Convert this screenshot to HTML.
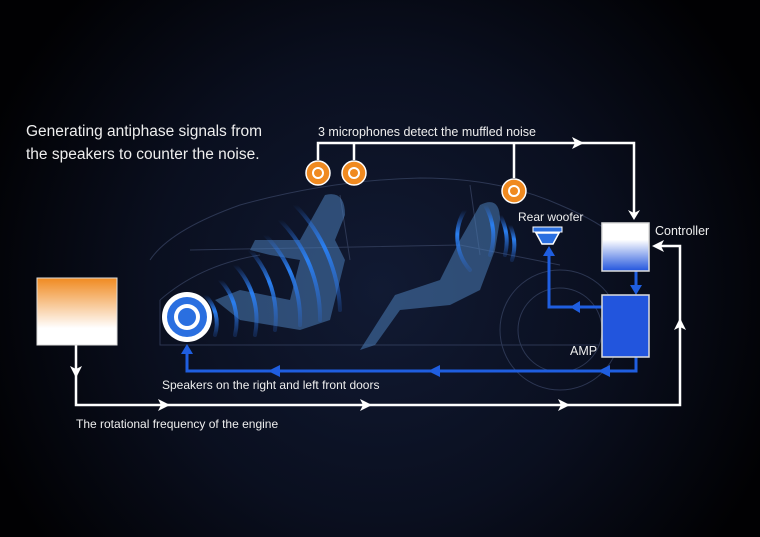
<!DOCTYPE html>
<html><head><meta charset="utf-8"><style>
html,body{margin:0;padding:0;background:#000;}
body{width:760px;height:537px;overflow:hidden;position:relative;font-family:"Liberation Sans",sans-serif;}
svg{position:absolute;left:0;top:0}
</style></head><body>
<svg width="760" height="537" viewBox="0 0 760 537">
<defs>
<radialGradient id="bg" cx="380" cy="290" r="420" gradientUnits="userSpaceOnUse">
<stop offset="0" stop-color="#111a33"/><stop offset="0.55" stop-color="#0a0f1f"/><stop offset="1" stop-color="#010103"/></radialGradient>
<linearGradient id="or" x1="0" y1="0" x2="0" y2="1"><stop offset="0" stop-color="#f08a20"/><stop offset="0.75" stop-color="#fff"/><stop offset="1" stop-color="#fff"/></linearGradient>
<linearGradient id="ct" x1="0" y1="0" x2="0" y2="1"><stop offset="0" stop-color="#fff"/><stop offset="0.35" stop-color="#fff"/><stop offset="1" stop-color="#2255dd"/></linearGradient>
<linearGradient id="arc" x1="0" y1="0" x2="0" y2="1"><stop offset="0" stop-color="#2a6fe0" stop-opacity="0"/><stop offset="0.4" stop-color="#2a7ff0"/><stop offset="1" stop-color="#2a6fe0" stop-opacity="0.2"/></linearGradient>
</defs>
<rect width="760" height="537" fill="url(#bg)"/>
<!-- car outline -->
<g fill="none" stroke="#3a4666" stroke-width="1" opacity="0.7">
<path d="M150 260 Q170 230 240 205 Q330 180 420 178 Q500 178 560 205 Q600 222 620 240"/>
<path d="M160 300 L160 345 L600 345"/>
<path d="M190 250 L460 245 L560 265"/>
<path d="M160 300 Q200 265 260 255"/>
<circle cx="560" cy="330" r="60"/><circle cx="560" cy="330" r="42"/>
<path d="M340 195 L350 260 M470 185 L480 255"/>
</g>
<!-- figures -->
<g fill="#4a7bb5" opacity="0.55">
<path d="M325 195 Q345 190 345 215 L335 240 L345 260 L330 320 L300 330 L240 320 L215 300 L240 290 L290 300 L300 260 L270 255 L250 250 L255 240 L300 240 Z"/>
<path d="M480 205 Q500 195 500 220 L495 250 L480 290 L450 305 L400 310 L375 345 L360 350 L395 295 L440 280 L460 240 Z"/>
</g>
<!-- blue arcs -->
<g fill="none" stroke="url(#arc)" stroke-width="4" stroke-linecap="round">
<path d="M205 295 A40 40 0 0 1 215 335"/>
<path d="M220 280 A60 60 0 0 1 235 335"/>
<path d="M235 265 A80 80 0 0 1 255 335"/>
<path d="M250 250 A100 100 0 0 1 275 330"/>
<path d="M265 235 A120 120 0 0 1 300 325"/>
<path d="M280 220 A140 140 0 0 1 320 320"/>
<path d="M295 205 A160 160 0 0 1 340 310"/>
<path d="M465 210 A50 50 0 0 0 470 270"/>
<path d="M485 205 A60 60 0 0 1 490 255"/>
<path d="M500 215 A55 55 0 0 1 505 255"/>
<path d="M510 225 A50 50 0 0 1 512 260"/>
</g>
<!-- white connectors -->
<g fill="none" stroke="#fff" stroke-width="2.5">
<path d="M318 160 L318 143 L634 143 L634 215"/>
<path d="M354 160 L354 143"/>
<path d="M514 178 L514 143"/>
<path d="M76 345 L76 405 L680 405 L680 246 L656 246"/>
</g>
<g fill="#fff">
<path d="M572 137 L584 143 L572 149 L575 143Z"/>
<path d="M628 210 L634 220 L640 210 L634 213Z"/>
<path d="M70 366 L76 378 L82 366 L76 369Z"/>
<path d="M158 399 L170 405 L158 411 L161 405Z"/>
<path d="M360 399 L372 405 L360 411 L363 405Z"/>
<path d="M558 399 L570 405 L558 411 L561 405Z"/>
<path d="M674 330 L680 318 L686 330 L680 327Z"/>
<path d="M664 240 L652 246 L664 252 L661 246Z"/>
</g>
<!-- blue connectors -->
<g fill="none" stroke="#1f5ee0" stroke-width="3">
<path d="M636 271 L636 288"/>
<path d="M602 307 L549 307 L549 254"/>
<path d="M636 357 L636 371 L187 371 L187 352"/>
</g>
<g fill="#1f5ee0">
<path d="M630 285 L636 295 L642 285Z"/>
<path d="M543 256 L549 246 L555 256Z"/>
<path d="M181 354 L187 344 L193 354Z"/>
<path d="M580 307 L570 301 L570 313Z" transform="rotate(180 575 307)"/>
<path d="M598 371 L610 365 L610 377Z"/>
<path d="M428 371 L440 365 L440 377Z"/>
<path d="M268 371 L280 365 L280 377Z"/>
</g>
<!-- boxes -->
<rect x="37" y="278" width="80" height="67" fill="url(#or)" stroke="#ddd" stroke-width="1"/>
<rect x="602" y="223" width="47" height="48" fill="url(#ct)" stroke="#ddd" stroke-width="1.5"/>
<rect x="602" y="295" width="47" height="62" fill="#2255dd" stroke="#ddd" stroke-width="1.5"/>
<!-- woofer -->
<rect x="533" y="227" width="29" height="5" fill="#2a6fe0" stroke="#fff" stroke-width="1"/>
<path d="M536 233 L559 233 L553 244 L542 244Z" fill="#2a6fe0" stroke="#fff" stroke-width="1.5"/>
<!-- speaker -->
<circle cx="187" cy="317" r="25" fill="#fff"/>
<circle cx="187" cy="317" r="20" fill="#2a6fe0"/>
<circle cx="187" cy="317" r="13" fill="#fff"/>
<circle cx="187" cy="317" r="9" fill="#2a6fe0"/>
<!-- mics -->
<g>
<circle cx="318" cy="173" r="12" fill="#f08a20" stroke="#fff" stroke-width="1.5"/><circle cx="318" cy="173" r="6" fill="#fff"/><circle cx="318" cy="173" r="4" fill="#f08a20"/>
<circle cx="354" cy="173" r="12" fill="#f08a20" stroke="#fff" stroke-width="1.5"/><circle cx="354" cy="173" r="6" fill="#fff"/><circle cx="354" cy="173" r="4" fill="#f08a20"/>
<circle cx="514" cy="191" r="12" fill="#f08a20" stroke="#fff" stroke-width="1.5"/><circle cx="514" cy="191" r="6" fill="#fff"/><circle cx="514" cy="191" r="4" fill="#f08a20"/>
</g>
<!-- text -->
<g fill="#eee" font-family="Liberation Sans, sans-serif">
<text x="26" y="136" font-size="15.5">Generating antiphase signals from</text>
<text x="26" y="159" font-size="15.5">the speakers to counter the noise.</text>
<text x="318" y="136" font-size="12.5">3 microphones detect the muffled noise</text>
<text x="518" y="221" font-size="12">Rear woofer</text>
<text x="655" y="235" font-size="12.5">Controller</text>
<text x="570" y="355" font-size="12.5">AMP</text>
<text x="162" y="389" font-size="12">Speakers on the right and left front doors</text>
<text x="76" y="428" font-size="12">The rotational frequency of the engine</text>
</g>
</svg>
</body></html>
